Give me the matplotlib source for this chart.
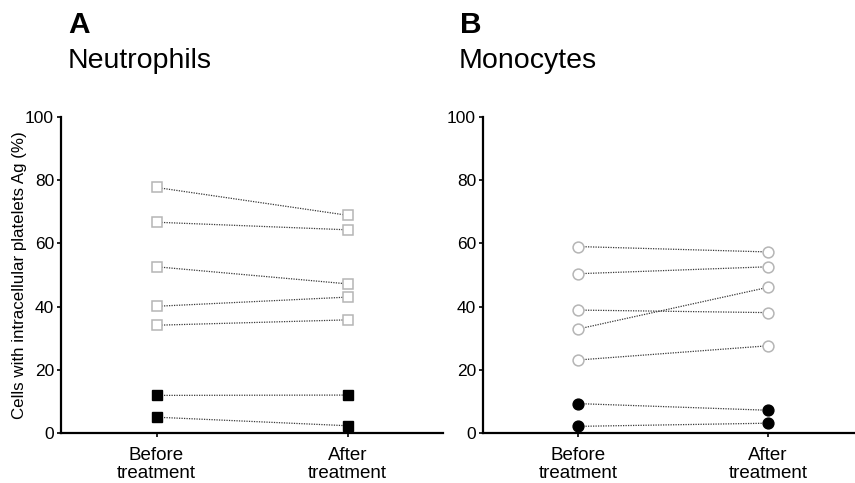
import matplotlib
matplotlib.use("Agg")
import matplotlib.pyplot as plt

plt.rcParams['font.family'] = ['Liberation Sans', 'DejaVu Sans']

categories = ["Before\ntreatment", "After\ntreatment"]
yticks = [0, 20, 40, 60, 80, 100]

# Neutrophils (panel A)
neu_open_before = [77.7, 66.7, 52.6, 40.1, 34.1]
neu_open_after = [68.9, 64.3, 47.2, 43.0, 35.8]
neu_fill_before = [11.9, 5.0]
neu_fill_after = [12.0, 2.3]

# Monocytes (panel B)
mono_open_before = [59.0, 50.4, 38.9, 32.9, 23.1]
mono_open_after = [57.3, 52.6, 38.1, 46.1, 27.6]
mono_fill_before = [9.3, 2.1]
mono_fill_after = [7.2, 3.1]

W, H = 855, 483
fig = plt.figure(figsize=(W / 100, H / 100), dpi=100)

ax1 = fig.add_axes([61 / W, 1 - 433 / H, 382 / W, 316 / H])
ax2 = fig.add_axes([483 / W, 1 - 433 / H, 380 / W, 316 / H])

line_kw = dict(color='#383838', linestyle=(0, (1, 1)), linewidth=0.9, zorder=2)
gray = '#b5b5b5'


def draw(ax, ob, oa, fb, fa, marker):
    xs = [0, 1]
    for b, a in zip(ob, oa):
        ax.plot(xs, [b, a], **line_kw)
        ax.plot(xs, [b, a], linestyle='none', marker=marker, markersize=7.8,
                markerfacecolor='white', markeredgecolor=gray,
                markeredgewidth=1.1, zorder=3, clip_on=False)
    for b, a in zip(fb, fa):
        ax.plot(xs, [b, a], **line_kw)
        ax.plot(xs, [b, a], linestyle='none', marker=marker, markersize=7.8,
                markerfacecolor='black', markeredgecolor='black',
                markeredgewidth=1.0, zorder=3, clip_on=False)
    ax.set_xlim(-0.5, 1.5)
    ax.set_ylim(0, 100)
    ax.set_yticks(yticks)
    ax.set_yticklabels([str(t) for t in yticks], fontsize=12.5)
    ax.set_xticks(xs)
    ax.set_xticklabels(categories, fontsize=13.5, linespacing=1.1)
    for s in ['top', 'right']:
        ax.spines[s].set_visible(False)
    for s in ['left', 'bottom']:
        ax.spines[s].set_linewidth(1.6)
    ax.tick_params(axis='y', length=3, width=1.2, pad=2)
    ax.tick_params(axis='x', length=3, width=1.2, pad=7)


draw(ax1, neu_open_before, neu_open_after, neu_fill_before, neu_fill_after, 's')
draw(ax2, mono_open_before, mono_open_after, mono_fill_before, mono_fill_after, 'o')

ax1.set_ylabel("Cells with intracellular platelets Ag (%)", fontsize=12.2)
ax1.yaxis.set_label_coords(-0.09, 0.5)

fig.text(68 / W, 1 - 33 / H, "A", fontsize=21.5, fontweight='bold', va='baseline', ha='left')
fig.text(68 / W, 1 - 68 / H, "Neutrophils", fontsize=20.5, va='baseline', ha='left')
fig.text(460 / W, 1 - 33 / H, "B", fontsize=21.5, fontweight='bold', va='baseline', ha='left')
fig.text(459 / W, 1 - 68 / H, "Monocytes", fontsize=20.5, va='baseline', ha='left')

fig.savefig("out.png", dpi=100)
